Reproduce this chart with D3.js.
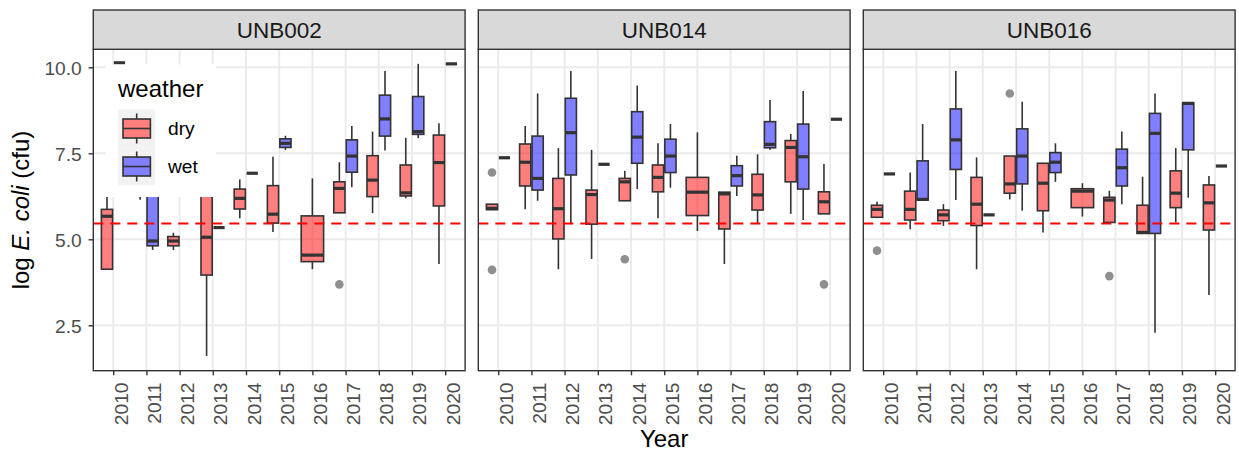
<!DOCTYPE html>
<html><head><meta charset="utf-8">
<script src="https://cdn.jsdelivr.net/npm/d3@7"></script>
<style>
body{margin:0;background:#fff}
svg{display:block}
text{font-family:"Liberation Sans",Arial,sans-serif}
</style>
</head><body>
<svg id="chart" width="1239" height="452"></svg>
<script>
// ---------- data ----------
const years = ["2010","2011","2012","2013","2014","2015","2016","2017","2018","2019","2020"];
const stationNames = ["UNB002","UNB014","UNB016"];
const weatherLevels = ["dry","wet"];
const yTicks = [2.5, 5.0, 7.5, 10.0];
const thresholdValue = 5.46;   // log(235)

// each entry: [lower whisker, Q1, median, Q3, upper whisker]  (null = no data)
const unb002Dry = [
  [4.13,4.13,5.67,5.87,6.37],[6.15,6.6,7.0,7.5,8.0],[4.69,4.81,4.95,5.08,5.19],
  [1.61,3.96,5.06,6.30,6.8],[5.61,5.88,6.19,6.46,6.74],[5.21,5.47,5.73,6.56,7.40],
  [4.13,4.35,4.54,5.68,6.77],[5.77,5.77,6.48,6.67,7.24],[5.76,6.24,6.72,7.43,8.13],
  [6.19,6.26,6.35,7.16,7.95],[4.28,5.97,7.23,8.03,8.37]];
const unb002Wet = [
  [10.13,10.13,10.13,10.13,10.13],[4.69,4.81,4.95,6.6,7.2],[6.9,7.6,8.1,8.6,9.4],
  [5.34,5.34,5.34,5.34,5.34],[6.92,6.92,6.92,6.92,6.92],[7.60,7.67,7.79,7.92,8.01],
  null,[6.51,6.95,7.42,7.89,8.29],[7.58,8.00,8.50,9.19,9.89],
  [7.94,8.05,8.13,9.15,10.10],[10.10,10.10,10.10,10.10,10.10]];
const unb002Outliers = [["2017","dry",3.69]];

const unb014Dry = [
  [5.86,5.86,5.90,6.02,6.02],[5.87,6.55,7.24,7.77,8.29],[4.13,5.01,5.89,6.77,7.65],
  [4.43,5.44,6.30,6.43,7.60],[6.12,6.12,6.67,6.77,6.99],[5.61,6.38,6.80,7.16,7.79],
  [5.24,5.69,6.37,6.80,8.11],[4.28,5.30,6.32,6.37,6.37],[5.44,5.85,6.29,6.89,7.47],
  [5.74,6.67,7.67,7.87,8.06],[5.74,5.74,6.09,6.38,7.19]];
const unb014Wet = [
  [7.37,7.37,7.37,7.37,7.37],[6.12,6.43,6.77,8.00,9.24],[5.44,6.87,8.10,9.10,9.89],
  [7.18,7.18,7.18,7.18,7.18],[6.46,7.21,7.97,8.71,9.47],[6.50,6.94,7.42,7.91,8.35],
  null,[6.26,6.55,6.85,7.14,7.43],[7.60,7.66,7.76,8.42,9.05],
  [5.56,6.46,7.40,8.35,9.31],[8.49,8.49,8.49,8.49,8.49]];
const unb014Outliers = [["2010","dry",6.94],["2010","dry",4.11],["2014","dry",4.42],["2020","dry",3.69]];

const unb016Dry = [
  [5.64,5.64,5.87,5.99,6.09],[5.29,5.56,5.87,6.40,6.94],[5.39,5.54,5.71,5.85,6.02],
  [4.13,5.40,6.02,6.80,7.38],[6.16,6.34,6.61,7.42,7.42],[5.20,5.83,6.63,7.21,7.22],
  [5.66,5.92,6.40,6.47,6.63],[5.49,5.49,6.14,6.22,6.41],[5.17,5.17,5.20,5.99,6.82],
  [5.49,5.92,6.34,6.99,7.65],[3.38,5.27,6.06,6.58,6.84]];
const unb016Wet = [
  [6.90,6.90,6.90,6.90,6.90],[6.14,6.14,6.16,7.28,8.35],[6.14,7.03,7.89,8.79,9.89],
  [5.71,5.71,5.71,5.71,5.71],[5.83,6.61,7.42,8.21,9.00],[6.67,6.94,7.24,7.52,7.79],
  null,[6.02,6.55,7.08,7.62,8.13],[2.28,5.17,8.08,8.66,9.24],
  [6.21,7.60,8.95,8.97,8.97],[7.13,7.13,7.13,7.13,7.13]];
const unb016Outliers = [["2010","dry",4.67],["2014","dry",9.24],["2017","dry",3.93]];

const stations = [
  {name: stationNames[0], dry: unb002Dry, wet: unb002Wet, outliers: unb002Outliers},
  {name: stationNames[1], dry: unb014Dry, wet: unb014Wet, outliers: unb014Outliers},
  {name: stationNames[2], dry: unb016Dry, wet: unb016Wet, outliers: unb016Outliers}
];

// ---------- layout ----------
const svg = d3.select("#chart");
const panelX0 = [93.3, 478.3, 863.3];
const panelW = 371.8;
const panelTop = 49.3, panelBot = 370.7, stripTop = 10;
const fills = {dry: "#FF0000", wet: "#0000FF"};
const ink = "#333333";

const y = d3.scaleLinear().domain([1.18, 10.523]).range([panelBot, panelTop]);

stations.forEach((st, pi) => {
  const x0 = panelX0[pi];
  const x = d3.scalePoint().domain(years).range([x0, x0 + panelW]).padding(0.6);
  const step = x.step();
  const g = svg.append("g");

  // panel background + grid
  g.append("rect").attr("x", x0).attr("y", panelTop).attr("width", panelW)
    .attr("height", panelBot - panelTop).attr("fill", "#fff");
  g.selectAll(".hg").data(yTicks).enter().append("line")
    .attr("x1", x0).attr("x2", x0 + panelW)
    .attr("y1", d => y(d)).attr("y2", d => y(d))
    .attr("stroke", "#EBEBEB").attr("stroke-width", 1.9);
  g.selectAll(".vg").data(years).enter().append("line")
    .attr("x1", d => x(d)).attr("x2", d => x(d))
    .attr("y1", panelTop).attr("y2", panelBot)
    .attr("stroke", "#EBEBEB").attr("stroke-width", 1.9);

  // boxes
  const boxes = [];
  years.forEach((yr, i) => {
    const present = weatherLevels.filter(w => st[w][i]);
    const total = 0.75 * step, slot = total / present.length;
    present.forEach((w, k) => {
      const s = st[w][i];
      boxes.push({year: yr, weather: w, stats: s,
        cx: x(yr) - total / 2 + slot * (k + 0.5), bw: slot * 0.9});
    });
  });
  const bg = g.selectAll(".box").data(boxes).enter().append("g");
  bg.append("line").attr("x1", d => d.cx).attr("x2", d => d.cx)
    .attr("y1", d => y(d.stats[3])).attr("y2", d => y(d.stats[4]))
    .attr("stroke", ink).attr("stroke-width", 1.6);
  bg.append("line").attr("x1", d => d.cx).attr("x2", d => d.cx)
    .attr("y1", d => y(d.stats[1])).attr("y2", d => y(d.stats[0]))
    .attr("stroke", ink).attr("stroke-width", 1.6);
  bg.append("rect")
    .attr("x", d => d.cx - d.bw / 2).attr("width", d => d.bw)
    .attr("y", d => y(d.stats[3])).attr("height", d => y(d.stats[1]) - y(d.stats[3]))
    .attr("fill", d => fills[d.weather]).attr("fill-opacity", 0.5)
    .attr("stroke", ink).attr("stroke-width", 1.6);
  bg.append("line")
    .attr("x1", d => d.cx - d.bw / 2).attr("x2", d => d.cx + d.bw / 2)
    .attr("y1", d => y(d.stats[2])).attr("y2", d => y(d.stats[2]))
    .attr("stroke", ink).attr("stroke-width", 3.2);

  // outliers
  g.selectAll(".out").data(st.outliers).enter().append("circle")
    .attr("cx", d => {
      const i = years.indexOf(d[0]);
      const present = weatherLevels.filter(w => st[w][i]);
      const total = 0.75 * step, slot = total / present.length;
      return x(d[0]) - total / 2 + slot * (present.indexOf(d[1]) + 0.5);
    })
    .attr("cy", d => y(d[2])).attr("r", 4.3)
    .attr("fill", ink).attr("fill-opacity", 0.55);

  // threshold line
  g.append("line").attr("x1", x0).attr("x2", x0 + panelW)
    .attr("y1", y(thresholdValue)).attr("y2", y(thresholdValue))
    .attr("stroke", "#FF0000").attr("stroke-width", 2).attr("stroke-dasharray", "10,7");

  // legend (inside first panel)
  if (pi === 0) {
    const lg = svg.append("g");
    lg.append("rect").attr("x", 106).attr("y", 64.5).attr("width", 110).attr("height", 132.5).attr("fill", "#fff");
    lg.append("text").attr("x", 118).attr("y", 96.5).attr("font-size", 24).attr("fill", "#000").text("weather");
    weatherLevels.forEach((w, k) => {
      const cy = 128.5 + k * 38;
      lg.append("rect").attr("x", 118.3).attr("y", cy - 19).attr("width", 36.7).attr("height", 38).attr("fill", "#F2F2F2");
      lg.append("line").attr("x1", 136.7).attr("x2", 136.7).attr("y1", cy - 15).attr("y2", cy + 15)
        .attr("stroke", ink).attr("stroke-width", 1.6);
      lg.append("rect").attr("x", 123).attr("y", cy - 9.5).attr("width", 27.4).attr("height", 19)
        .attr("fill", "#fff");
      lg.append("rect").attr("x", 123).attr("y", cy - 9.5).attr("width", 27.4).attr("height", 19)
        .attr("fill", fills[w]).attr("fill-opacity", 0.5).attr("stroke", ink).attr("stroke-width", 1.6);
      lg.append("line").attr("x1", 123).attr("x2", 150.4).attr("y1", cy).attr("y2", cy)
        .attr("stroke", ink).attr("stroke-width", 1.6);
      lg.append("text").attr("x", 168).attr("y", cy + 6).attr("font-size", 19.2).attr("fill", "#000").text(w);
    });
  }

  // panel border
  svg.append("rect").attr("x", x0).attr("y", panelTop).attr("width", panelW)
    .attr("height", panelBot - panelTop).attr("fill", "none")
    .attr("stroke", ink).attr("stroke-width", 1.4);

  // strip
  svg.append("rect").attr("x", x0).attr("y", stripTop).attr("width", panelW)
    .attr("height", panelTop - stripTop).attr("fill", "#D9D9D9")
    .attr("stroke", ink).attr("stroke-width", 1.4);
  svg.append("text").attr("x", x0 + panelW / 2).attr("y", 38)
    .attr("text-anchor", "middle").attr("font-size", 22.5).attr("fill", "#1A1A1A").text(st.name);

  // x axis
  const xa = svg.append("g").attr("transform", `translate(0,${panelBot})`)
    .call(d3.axisBottom(x).tickSize(4.6).tickSizeOuter(0));
  xa.select(".domain").remove();
  xa.selectAll(".tick line").attr("stroke", ink).attr("stroke-width", 1.4);
  xa.selectAll(".tick text")
    .attr("transform", "rotate(-90)").attr("text-anchor", "end")
    .attr("x", -(382.5 - panelBot)).attr("y", 14).attr("dy", null)
    .attr("font-size", 19.2).attr("fill", "#4D4D4D").attr("font-family", '"Liberation Sans",Arial,sans-serif');

  // y axis on first panel
  if (pi === 0) {
    const ya = svg.append("g").attr("transform", `translate(${x0},0)`)
      .call(d3.axisLeft(y).tickValues(yTicks).tickFormat(d3.format(".1f")).tickSize(4.7).tickSizeOuter(0));
    ya.select(".domain").remove();
    ya.selectAll(".tick line").attr("stroke", ink).attr("stroke-width", 1.4);
    ya.selectAll(".tick text").attr("x", -11.5).attr("dy", "0.36em")
      .attr("font-size", 19.2).attr("fill", "#4D4D4D").attr("font-family", '"Liberation Sans",Arial,sans-serif');
  }
});

// axis titles
svg.append("text").attr("x", (panelX0[0] + panelX0[2] + panelW) / 2).attr("y", 446.5)
  .attr("text-anchor", "middle").attr("font-size", 24).attr("fill", "#000").text("Year");
const yt = svg.append("text").attr("transform", `translate(28.5,${(panelTop + panelBot) / 2}) rotate(-90)`)
  .attr("text-anchor", "middle").attr("font-size", 24).attr("fill", "#000");
yt.append("tspan").text("log ");
yt.append("tspan").attr("font-style", "italic").text("E. coli");
yt.append("tspan").text(" (cfu)");
</script>
</body></html>
